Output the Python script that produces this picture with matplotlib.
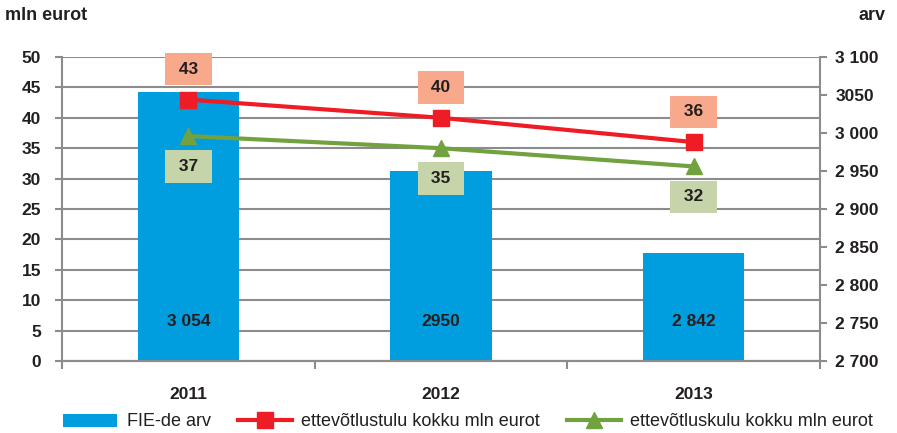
import matplotlib.pyplot as plt
import numpy as np

plt.rcParams['font.family'] = ['Liberation Sans', 'DejaVu Sans']

years = ['2011', '2012', '2013']
fie_arv = [3054, 2950, 2842]
fie_labels = ['3 054', '2950', '2 842']
tulu = [43, 40, 36]
kulu = [37, 35, 32]
right_ticks = [2700, 2750, 2800, 2850, 2900, 2950, 3000, 3050, 3100]
right_ticklabels = ['2 700', '2 750', '2 800', '2 850', '2 900', '2 950', '3 000', '3050', '3 100']

txt = '#231f20'
grey = '#8c8c8c'
blue = '#009ddf'
red = '#ee1c25'
green = '#72a23f'
fs = 12.5

fig = plt.figure(figsize=(8.97, 4.33), dpi=100)
ax = fig.add_axes([62/897, 1-361/433, (820-62)/897, (361-57)/433])
ax2 = ax.twinx()
x = np.arange(len(years))

# tulbad parema telje järgi (arv)
ax2.bar(x, [v - 2700 for v in fie_arv], bottom=2700, width=0.4, color=blue, zorder=2,
        label='FIE-de arv')
for xi, lab in zip(x, fie_labels):
    ax2.text(xi, 2752, lab, ha='center', va='center', fontsize=fs, fontweight='bold', color=txt)
ax2.set_ylim(2700, 3100)
ax2.set_yticks(right_ticks)
ax2.set_yticklabels(right_ticklabels)

# jooned vasaku telje järgi (mln eurot)
ax3 = ax.twinx()
ax3.set_ylim(0, 50)
ax3.axis('off')
ax3.plot(x, tulu, color=red, lw=3, marker='s', ms=11, zorder=4,
         label='ettevõtlustulu kokku mln eurot')
ax3.plot(x, kulu, color=green, lw=3, marker='^', ms=12, zorder=4,
         label='ettevõtluskulu kokku mln eurot')
for xi, v in zip(x, tulu):
    ax3.text(xi, v + 5, ' %d ' % v, ha='center', va='center', fontsize=fs, fontweight='bold',
             color=txt, bbox=dict(boxstyle='square,pad=0.5', fc='#f8a98b', ec='none'))
for xi, v in zip(x, kulu):
    ax3.text(xi, v - 5, ' %d ' % v, ha='center', va='center', fontsize=fs, fontweight='bold',
             color=txt, bbox=dict(boxstyle='square,pad=0.5', fc='#c5d5a9', ec='none'))

ax.set_ylim(0, 50)
ax.set_yticks(range(0, 51, 5))
ax.set_xlim(-0.5, 2.5)
ax.set_xticks([-0.5, 0.5, 1.5, 2.5], minor=False)
ax.set_xticklabels([])
ax.set_xticks(x, minor=True)
ax.set_xticklabels(years, minor=True)
ax.tick_params(axis='x', which='minor', length=0, pad=19)
ax.tick_params(axis='x', which='major', length=6, width=1.5, color=grey, direction='out')
ax.yaxis.grid(True, color=grey, lw=1.5)
ax.set_axisbelow(True)
ax.tick_params(axis='y', length=5, width=1.5, color=grey, direction='out', pad=10)
ax2.tick_params(axis='y', length=5, width=1.5, color=grey, direction='out', pad=6)
for a in (ax, ax2):
    for lab in a.get_yticklabels() + a.get_xticklabels(minor=True):
        lab.set_fontsize(fs)
        lab.set_fontweight('bold')
        lab.set_color(txt)
    a.spines['top'].set_visible(False)
    for s in ['left', 'right', 'bottom']:
        a.spines[s].set_color(grey)
        a.spines[s].set_linewidth(1.5)
ax2.spines['left'].set_visible(False)
ax.spines['right'].set_visible(False)

fig.text(5/897, 1-16/433, 'mln eurot', fontsize=13, fontweight='bold', color=txt, va='center')
fig.text(885/897, 1-16/433, 'arv', fontsize=13, fontweight='bold', color=txt, va='center', ha='right')

h1, l1 = ax2.get_legend_handles_labels()
h2, l2 = ax3.get_legend_handles_labels()
fig.legend(h1 + h2, l1 + l2, loc='center', bbox_to_anchor=(468/897, 1-422/433), ncol=3,
           frameon=False, fontsize=13, handlelength=3.0, columnspacing=1.5, handletextpad=0.5,
           labelcolor=txt, borderaxespad=0)

fig.savefig('out.png', dpi=100)
